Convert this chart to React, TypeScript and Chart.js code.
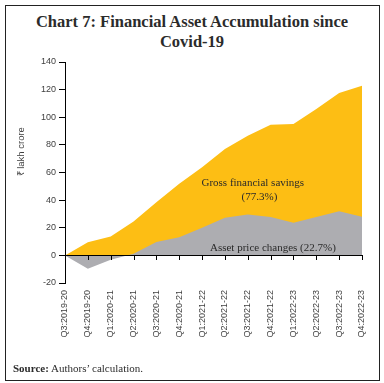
import React, { useEffect, useRef } from "react";
import { Chart, registerables } from "chart.js";

Chart.register(...registerables);

const quarters = [
  "Q3:2019-20", "Q4:2019-20", "Q1:2020-21", "Q2:2020-21", "Q3:2020-21", "Q4:2020-21",
  "Q1:2021-22", "Q2:2021-22", "Q3:2021-22", "Q4:2021-22", "Q1:2022-23", "Q2:2022-23",
  "Q3:2022-23", "Q4:2022-23",
];
const grossFinancialSavings = [0, 9.5, 13.7, 24.5, 38.5, 51.8, 63.8, 77, 86.6, 94.6, 95.1, 106, 117.5, 122.8];
const assetPriceChanges = [0, -9.6, -3.1, 1.1, 9.6, 13.2, 20, 27.2, 29.6, 27.7, 23.6, 27.7, 32, 28];
const yMin = -20;
const yMax = 140;
const yStep = 20;

const annotations = [
  { text: "Gross financial savings", x: 8.22, y: 52.2 },
  { text: "(77.3%)", x: 8.51, y: 42.1 },
  { text: "Asset price changes (22.7%)", x: 9.1, y: 5.6 },
];

const serif = "'Liberation Serif', 'Times New Roman', serif";
const sans = "'Liberation Sans', Arial, sans-serif";

const overlayPlugin = {
  id: "overlay",
  afterDatasetsDraw(chart: any) {
    const { ctx, chartArea, scales } = chart;
    const xs = scales.x;
    const ys = scales.y;
    const y0 = ys.getPixelForValue(0);
    ctx.save();
    ctx.strokeStyle = "#000";
    ctx.lineWidth = 1;
    ctx.beginPath();
    ctx.moveTo(chartArea.left, Math.round(y0) + 0.5);
    ctx.lineTo(chartArea.right, Math.round(y0) + 0.5);
    for (let i = 1; i < quarters.length; i++) {
      const px = Math.round(xs.getPixelForValue(i)) + 0.5;
      ctx.moveTo(px, Math.round(y0));
      ctx.lineTo(px, Math.round(y0) + 5);
    }
    ctx.stroke();

    ctx.fillStyle = "#2a2a2a";
    ctx.font = `11px ${serif}`;
    ctx.textAlign = "center";
    ctx.textBaseline = "middle";
    annotations.forEach((a) => {
      ctx.fillText(a.text, xs.getPixelForValue(a.x), ys.getPixelForValue(a.y));
    });

    ctx.translate(chartArea.left - 44, ys.getPixelForValue(75));
    ctx.rotate(-Math.PI / 2);
    ctx.fillStyle = "#404040";
    ctx.font = `9.5px ${sans}`;
    ctx.fillText("₹ lakh crore", 0, 0);
    ctx.restore();
  },
};

export default function App() {
  const ref = useRef<HTMLCanvasElement>(null);
  useEffect(() => {
    if (!ref.current) return;
    const chart = new Chart(ref.current, {
      type: "line",
      data: {
        labels: quarters,
        datasets: [
          {
            label: "Asset price changes",
            data: assetPriceChanges,
            fill: "origin",
            backgroundColor: "#ADADB1",
            borderWidth: 0,
            pointRadius: 0,
            tension: 0,
          },
          {
            label: "Gross financial savings",
            data: grossFinancialSavings,
            fill: "origin",
            backgroundColor: "#FDBE14",
            borderWidth: 0,
            pointRadius: 0,
            tension: 0,
          },
        ],
      },
      options: {
        animation: false,
        responsive: false,
        maintainAspectRatio: false,
        layout: { padding: { left: 25, right: 22, top: 62, bottom: 40 } },
        plugins: { legend: { display: false }, tooltip: { enabled: false }, title: { display: false } },
        scales: {
          x: {
            grid: { display: false, drawTicks: false },
            border: { display: false },
            afterFit: (s: any) => { s.height = 60; },
            ticks: {
              autoSkip: false,
              minRotation: 90,
              maxRotation: 90,
              padding: 7,
              color: "#404040",
              font: { family: sans, size: 9 },
            },
          },
          y: {
            min: yMin,
            max: yMax,
            afterFit: (s: any) => { s.width = 40; },
            border: { display: true, color: "#000", width: 1 },
            grid: { drawOnChartArea: false, drawTicks: true, tickLength: 6, color: "#000" },
            ticks: {
              stepSize: yStep,
              padding: 3,
              color: "#404040",
              font: { family: sans, size: 9 },
            },
          },
        },
      },
      plugins: [overlayPlugin],
    });
    return () => chart.destroy();
  }, []);

  return (
    <div style={{ position: "fixed", left: 0, top: 0, width: 384, height: 383, background: "#fff" }}>
      <div
        style={{
          position: "absolute", left: 5, top: 5, width: 375, height: 376,
          boxSizing: "border-box", border: "1px solid #222",
        }}
      />
      <div
        style={{
          position: "absolute", left: 0, top: 12, width: 384, textAlign: "center",
          font: `bold 16.5px ${serif}`, lineHeight: "20px", color: "#2b2b2b",
        }}
      >
        Chart 7: Financial Asset Accumulation since<br />Covid-19
      </div>
      <canvas ref={ref} width={384} height={383} style={{ position: "absolute", left: 0, top: 0, display: "block" }} />
      <div
        style={{
          position: "absolute", left: 13, top: 361, font: `11px ${serif}`, lineHeight: "14px", color: "#2b2b2b",
        }}
      >
        <b>Source:</b> Authors’ calculation.
      </div>
    </div>
  );
}
